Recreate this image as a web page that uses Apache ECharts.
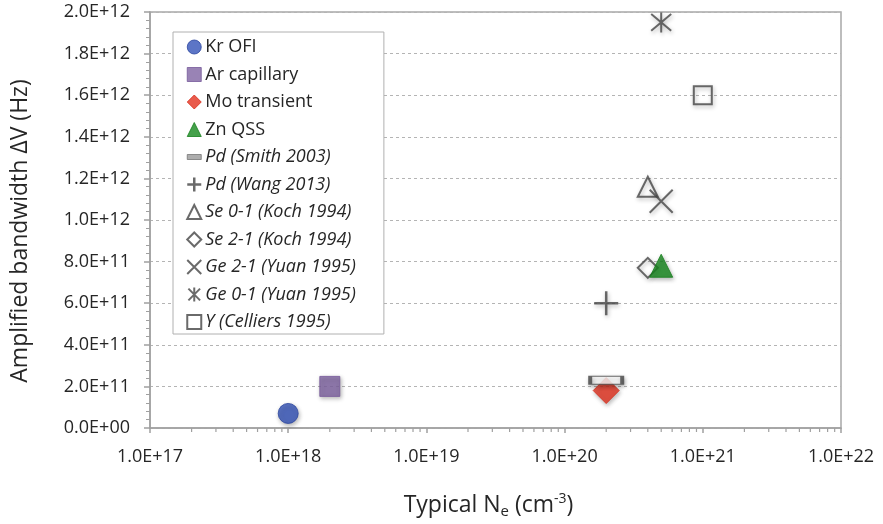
<!DOCTYPE html>
<html><head><meta charset="utf-8">
<script src="https://cdn.jsdelivr.net/npm/echarts@6/dist/echarts.min.js"></script>
<style>html,body{margin:0;padding:0;background:#fff}#c{width:883px;height:524px}</style>
</head><body><div id="c"></div>
<script>
// ---- data ----
const seriesNames = ['Kr OFI','Ar capillary','Mo transient','Zn QSS','Pd (Smith 2003)','Pd (Wang 2013)',
  'Se 0-1 (Koch 1994)','Se 2-1 (Koch 1994)','Ge 2-1 (Yuan 1995)','Ge 0-1 (Yuan 1995)','Y (Celliers 1995)'];
const densities  = [1e18, 2e18, 2e20, 5e20, 2e20, 2e20, 4e20, 4e20, 5e20, 5e20, 1e21];
const bandwidths = [7e10, 2e11, 1.8e11, 7.8e11, 2.3e11, 6.0e11, 1.16e12, 7.7e11, 1.09e12, 1.95e12, 1.6e12];
const xRange = [1e17, 1e22];
const xDecades = [1e17, 1e18, 1e19, 1e20, 1e21];
const minorMultipliers = [2, 3, 4, 5, 6, 7, 8, 9];
const yRange = [0, 2e12];
const yStep = 2e11;

// ---- styles ----
const DARK = '#454545';
const AXIS = '#a0a0a0';
const shadow = {shadowBlur: 4, shadowColor: 'rgba(0,0,0,0.35)', shadowOffsetX: 1, shadowOffsetY: 2};
const styles = [
  {symbol: 'circle', size: 20, item: {color: '#3353b8', borderColor: '#2a459f', borderWidth: 1}, z: 3, icon: 'circle', italic: false},
  {symbol: 'rect', size: 20, item: {color: '#8064a2', borderColor: '#76599a', borderWidth: 1}, z: 3, icon: 'rect', italic: false},
  {symbol: 'diamond', size: 26, item: {color: '#e3321f', borderColor: '#d82c1a', borderWidth: 1}, z: 3, icon: 'diamond', italic: false},
  {symbol: 'triangle', size: 23, item: {color: '#178a1e', borderColor: '#157f1b', borderWidth: 1}, z: 5, icon: 'triangle', italic: false},
  {symbol: 'rect', size: [32, 8], item: {color: '#ffffff', borderColor: DARK, borderWidth: 2}, z: 4, icon: 'path://M0,0H14V5H0Z', legendItem: {color: '#999', borderColor: '#777', borderWidth: 1}, italic: true},
  {symbol: 'path://M10,0L10,20M0,10L20,10', size: 24, item: {color: DARK, borderColor: DARK, borderWidth: 2.5}, z: 4, icon: 'path://M10,0L10,20M0,10L20,10', italic: true},
  {symbol: 'triangle', size: 20, item: {color: 'rgba(255,255,255,0)', borderColor: DARK, borderWidth: 2}, z: 3, icon: 'triangle', italic: true},
  {symbol: 'diamond', size: 20, item: {color: 'rgba(255,255,255,0)', borderColor: DARK, borderWidth: 2}, z: 3, icon: 'diamond', italic: true},
  {symbol: 'path://M0,0L20,20M0,20L20,0', size: 23, item: {color: DARK, borderColor: DARK, borderWidth: 2}, z: 4, icon: 'path://M0,0L20,20M0,20L20,0', italic: true},
  {symbol: 'path://M0,0L20,20M0,20L20,0M10,-2L10,22', size: 20, item: {color: DARK, borderColor: DARK, borderWidth: 2}, z: 4, icon: 'path://M0,0L20,20M0,20L20,0M10,-2L10,22', italic: true},
  {symbol: 'rect', size: 18, item: {color: 'rgba(255,255,255,0)', borderColor: DARK, borderWidth: 2}, z: 3, icon: 'rect', italic: true}
];

function sci(v) {
  if (v === 0) return '0.0E+00';
  const ex = Math.floor(Math.log10(Math.abs(v)) + 1e-9);
  const m = v / Math.pow(10, ex);
  return m.toFixed(1) + 'E+' + String(ex).padStart(2, '0');
}

const FONT = 'Open Sans';
const series = seriesNames.map((name, i) => {
  const s = styles[i];
  return {
    name: name,
    type: 'scatter',
    symbol: s.symbol,
    symbolSize: s.size,
    z: s.z,
    itemStyle: Object.assign({}, s.item, shadow),
    emphasis: {disabled: true},
    data: [[densities[i], bandwidths[i]]]
  };
});

// minor ticks of the log axis (2..9 within each decade), placed by the axis scale
const minorTickValues = [];
xDecades.forEach(d => minorMultipliers.forEach(m => minorTickValues.push([d * m])));
series.push({
  type: 'custom',
  silent: true,
  clip: false,
  z: 1,
  data: minorTickValues,
  encode: {x: 0},
  renderItem: function (params, api) {
    const p = api.coord([api.value(0), yRange[0]]);
    return {type: 'line', shape: {x1: p[0], y1: p[1], x2: p[0], y2: p[1] + 4},
      style: {stroke: AXIS, lineWidth: 1.2}};
  }
});

const legendData = seriesNames.map((name, i) => {
  const s = styles[i];
  const o = {name: name, icon: s.icon, textStyle: {fontStyle: s.italic ? 'italic' : 'normal'}};
  o.itemStyle = Object.assign({}, s.legendItem || s.item, {shadowBlur: 0, shadowOffsetX: 0, shadowOffsetY: 0});
  if (s.item.color && s.item.color.indexOf('rgba') === 0) o.itemStyle.color = '#fff';
  return o;
});

const chart = echarts.init(document.getElementById('c'), null, {renderer: 'canvas'});
chart.setOption({
  animation: false,
  backgroundColor: '#fff',
  textStyle: {fontFamily: FONT},
  grid: {left: 150, right: 42, top: 12, bottom: 95, show: true, borderColor: '#a8a8a8', borderWidth: 1.5, containLabel: false},
  legend: {
    orient: 'vertical', left: 173, top: 32,
    padding: [6, 28, 3, 13],
    itemWidth: 14, itemHeight: 14, itemGap: 9.5,
    backgroundColor: '#fff', borderColor: '#b0b0b0', borderWidth: 1,
    textStyle: {fontFamily: FONT, fontSize: 18, color: '#262626', padding: [0, 0, 0, -1]},
    data: legendData,
    selectedMode: false
  },
  xAxis: {
    type: 'log', logBase: 10, min: xRange[0], max: xRange[1],
    name: 'Typical N{sub|e} (cm{sup|-3})',
    nameLocation: 'middle', nameGap: 64,
    nameTextStyle: {fontFamily: FONT, fontSize: 23, color: '#262626', padding: [0, 14, 0, 0],
      rich: {sub: {fontFamily: FONT, fontSize: 15, color: '#262626', padding: [12, 0, 0, 0]},
             sup: {fontFamily: FONT, fontSize: 14, color: '#262626', padding: [0, 0, 12, 0]}}},
    axisLine: {show: true, onZero: false, lineStyle: {color: AXIS, width: 1.5}},
    axisTick: {show: true, length: 5, lineStyle: {color: AXIS, width: 1.5}},
    splitLine: {show: false},
    axisLabel: {formatter: sci, fontFamily: FONT, fontSize: 18, color: '#262626', margin: 20}
  },
  yAxis: {
    type: 'value', min: yRange[0], max: yRange[1], interval: yStep,
    name: 'Amplified bandwidth ΔV (Hz)',
    nameLocation: 'middle', nameGap: 118, nameRotate: 90,
    nameTextStyle: {fontFamily: FONT, fontSize: 23, color: '#262626', padding: [0, 22, 0, 0]},
    axisLine: {show: true, lineStyle: {color: AXIS, width: 1.5}},
    axisTick: {show: true, length: 6, lineStyle: {color: AXIS, width: 1.5}},
    minorTick: {show: true, splitNumber: 5, length: 4, lineStyle: {color: AXIS, width: 1}},
    splitLine: {show: true, lineStyle: {color: '#b4b4b4', type: [3, 3], width: 1}},
    axisLabel: {formatter: sci, fontFamily: FONT, fontSize: 18, color: '#262626', margin: 20}
  },
  series: series
});
</script>
</body></html>
